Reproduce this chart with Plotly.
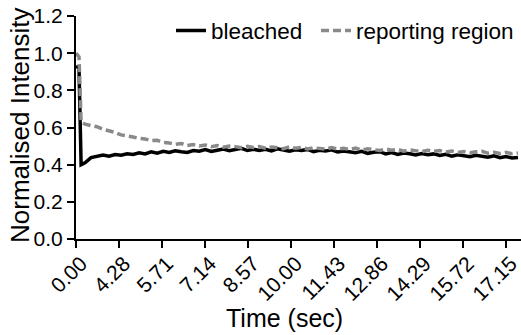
import plotly.graph_objects as go

time_sec = [0, 0.1, 0.17, 0.3, 0.5, 0.7, 0.9, 1.1, 1.3, 1.5, 1.7, 1.9, 2.1, 2.3, 2.5, 2.7, 2.9,
            3.1, 3.3, 3.5, 3.7, 3.9, 4.1, 4.3, 4.5, 4.7, 4.9, 5.1, 5.3, 5.5, 5.7, 5.9,
            6.1, 6.3, 6.5, 6.7, 6.9, 7.1, 7.3, 7.5, 7.7, 7.9, 8.1, 8.3, 8.5, 8.7, 8.9,
            9.1, 9.3, 9.5, 9.7, 9.9, 10.1, 10.3, 10.5, 10.7, 10.9, 11.1, 11.3, 11.5, 11.7, 11.9,
            12.1, 12.3, 12.5, 12.7, 12.9, 13.1, 13.3, 13.5, 13.7, 13.9, 14.1, 14.3, 14.5, 14.7]

bleached = [0.93, 0.92, 0.40,
            0.41, 0.438, 0.445, 0.452, 0.446, 0.455, 0.451, 0.459, 0.455, 0.464, 0.458, 0.469, 0.462, 0.472,
            0.466, 0.475, 0.470, 0.466, 0.476, 0.472, 0.481, 0.471, 0.478, 0.484, 0.475, 0.480, 0.488, 0.476, 0.483,
            0.477, 0.483, 0.474, 0.485, 0.479, 0.472, 0.480, 0.476, 0.482, 0.470, 0.477, 0.473, 0.480, 0.468, 0.474,
            0.470, 0.464, 0.472, 0.461, 0.467, 0.470, 0.458, 0.465, 0.455, 0.463, 0.459, 0.452, 0.460, 0.454, 0.458,
            0.449, 0.456, 0.446, 0.453, 0.450, 0.443, 0.451, 0.445, 0.440, 0.448, 0.438, 0.444, 0.436, 0.439]

reporting = [1.00, 0.98, 0.63,
             0.618, 0.610, 0.604, 0.590, 0.582, 0.574, 0.560, 0.556, 0.549, 0.541, 0.538, 0.529, 0.531, 0.520,
             0.517, 0.509, 0.514, 0.503, 0.508, 0.500, 0.506, 0.497, 0.503, 0.494, 0.500, 0.497, 0.491, 0.499, 0.493,
             0.498, 0.489, 0.495, 0.492, 0.486, 0.496, 0.488, 0.493, 0.485, 0.491, 0.487, 0.483, 0.492, 0.484, 0.488,
             0.482, 0.489, 0.479, 0.486, 0.481, 0.476, 0.484, 0.478, 0.482, 0.473, 0.480, 0.475, 0.470, 0.478, 0.472,
             0.476, 0.468, 0.473, 0.466, 0.471, 0.464, 0.469, 0.472, 0.462, 0.467, 0.460, 0.466, 0.459, 0.463]

x_tick_vals = [0, 1.43, 2.86, 4.29, 5.72, 7.15, 8.58, 10.01, 11.44, 12.87, 14.3]
x_tick_text = ["0.00", "4.28", "5.71", "7.14", "8.57", "10.00", "11.43", "12.86", "14.29", "15.72", "17.15"]
y_tick_vals = [0.0, 0.2, 0.4, 0.6, 0.8, 1.0, 1.2]
y_tick_text = ["0.0", "0.2", "0.4", "0.6", "0.8", "1.0", "1.2"]
x_title = "Time (sec)"
y_title = "Normalised Intensity"

FONT = "Liberation Sans, Arial, sans-serif"
L, R, T, B, W, H = 76, 0, 16, 96, 521, 335
PW = W - L - R
PH = H - T - B

fig = go.Figure()
fig.add_trace(go.Scatter(x=time_sec, y=bleached, mode="lines", name="bleached", legend="legend",
                         line=dict(color="black", width=3.5)))
fig.add_trace(go.Scatter(x=time_sec, y=reporting, mode="lines", name="reporting region", legend="legend2",
                         line=dict(color="#8a8a8a", width=3.5, dash="8px,4px")))

fig.add_annotation(text=y_title, textangle=-90, xref="paper", yref="paper",
                   x=(20 - L) / PW, y=(T + PH - 125) / PH, xanchor="center", yanchor="middle",
                   showarrow=False, font=dict(size=26, family=FONT, color="black"))
fig.add_annotation(text=x_title, xref="paper", yref="paper",
                   x=(284 - L) / PW, y=(T + PH - 318) / PH, xanchor="center", yanchor="middle",
                   showarrow=False, font=dict(size=25, family=FONT, color="black"))

leg_common = dict(orientation="h", xanchor="left", y=1.03, yanchor="top",
                  font=dict(size=22.5), bgcolor="rgba(0,0,0,0)", itemwidth=30)

fig.update_layout(
    width=W, height=H,
    margin=dict(l=L, r=R, t=T, b=B),
    paper_bgcolor="white", plot_bgcolor="white",
    font=dict(family=FONT, color="black", size=21),
    showlegend=True,
    legend=dict(x=(171 - L) / PW, **leg_common),
    legend2=dict(x=(316 - L) / PW, **leg_common),
    xaxis=dict(range=[0, 14.8], tickvals=x_tick_vals, ticktext=x_tick_text, tickangle=-45,
               showline=True, linecolor="black", linewidth=2, ticks="outside", ticklen=7,
               tickwidth=2, tickcolor="black", showgrid=False, zeroline=False,
               tickfont=dict(size=21), automargin=False, ticklabeloverflow="allow",
               ticklabelstandoff=-5, ticklabelshift=5),
    yaxis=dict(range=[0, 1.2], tickvals=y_tick_vals, ticktext=y_tick_text,
               showline=True, linecolor="black", linewidth=2, ticks="outside", ticklen=7,
               tickwidth=2, tickcolor="black", showgrid=False, zeroline=False,
               tickfont=dict(size=21), automargin=False),
)

fig.write_html("out.html")
